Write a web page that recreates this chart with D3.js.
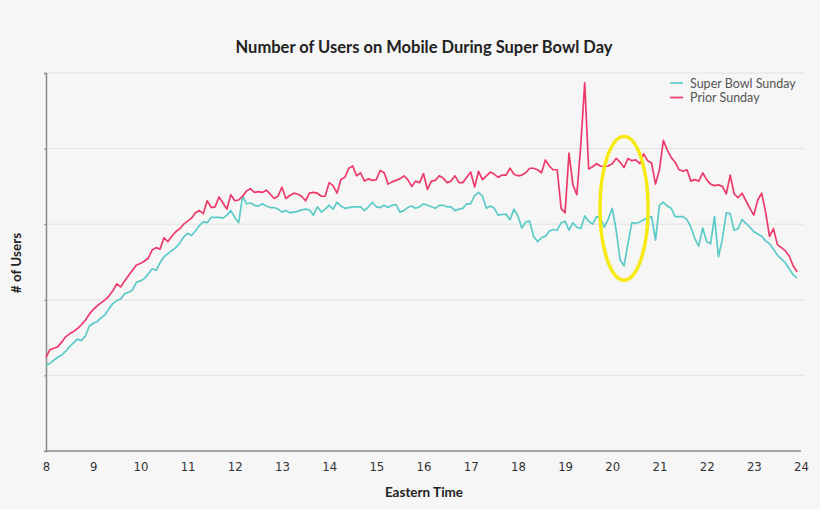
<!DOCTYPE html>
<html>
<head>
<meta charset="utf-8">
<script src="https://cdn.jsdelivr.net/npm/d3@7"></script>
<style>
  html, body { margin: 0; padding: 0; background: #f6f6f6; }
  svg { display: block; font-family: Lato, "Noto Sans", sans-serif; }
</style>
</head>
<body>
<div id="chart"></div>
<script>
// Users every 5 minutes from 8:00 to 23:55 (arbitrary units, axis unlabeled)
const startHour = 8;
const stepMinutes = 5;

const superBowlSunday = [
  113,116,120,124,127,132,138,143,148,146,152,165,169,171,176,180,188,195,199,201,208,210,213,223,
  225,228,234,241,239,249,257,261,265,269,275,283,288,285,291,298,303,302,309,309,309,308,312,318,
  309,302,337,327,328,325,324,327,324,322,322,320,316,318,315,316,317,319,320,319,312,323,316,320,
  325,320,329,324,321,322,323,323,323,318,323,329,323,322,325,322,325,326,316,318,322,324,321,323,
  327,325,323,321,325,325,323,323,318,320,321,327,327,338,342,337,321,324,321,312,313,313,306,320,
  311,295,303,304,284,277,282,284,291,293,292,302,304,292,302,296,294,311,304,300,310,308,296,307,
  321,292,253,245,275,302,301,303,306,308,310,279,325,329,324,321,310,310,310,306,296,281,271,295,
  277,274,310,257,280,315,314,292,294,306,301,296,290,287,284,278,274,267,259,254,249,241,233,229
];

const priorSunday = [
  124,134,136,138,144,151,155,158,162,167,173,181,187,192,196,200,205,212,221,217,225,232,239,246,
  248,251,255,266,269,267,282,277,284,290,294,300,304,308,315,318,314,331,322,323,336,328,320,339,
  331,332,337,344,347,342,343,342,345,340,334,337,349,334,338,341,340,337,331,341,342,341,337,337,
  355,351,341,359,362,374,377,364,368,357,360,358,359,371,368,353,356,358,360,364,359,350,357,355,
  367,346,357,358,364,361,355,357,364,355,355,362,369,349,370,359,364,369,366,362,365,365,374,366,
  364,365,368,374,374,372,368,385,377,372,372,321,315,394,352,339,405,487,373,376,380,377,376,377,
  380,387,382,375,387,384,385,380,393,384,381,353,372,411,398,388,382,372,370,372,357,359,357,368,
  359,353,351,352,350,340,365,340,335,341,331,321,312,332,341,316,284,294,273,269,265,258,245,237
];

const seriesNames = ["Super Bowl Sunday", "Prior Sunday"];
const seriesColors = ["#5ccbc8", "#ec3a6b"];
const hourTicks = d3.range(8, 25);
const valueTicks = [100, 200, 300, 400, 500];

// yellow ring around the kickoff dip
const highlight = { hour: 20.25, value: 321, rxHours: 0.51, ryValue: 95 };

const width = 820;
const height = 509;
const margin = { top: 73, right: 19, bottom: 58, left: 46 };

const svg = d3.select('#chart').append('svg')
  .attr('width', width)
  .attr('height', height);

svg.append('rect')
  .attr('width', width)
  .attr('height', height)
  .attr('fill', '#f6f6f6');

const g = svg.append('g')
  .attr('transform', `translate(${margin.left},${margin.top})`);

const chartWidth = width - margin.left - margin.right;
const chartHeight = height - margin.top - margin.bottom;

// Scales
const xScale = d3.scaleLinear()
  .domain([8, 24])
  .range([0, chartWidth]);

const yScale = d3.scaleLinear()
  .domain([0, 500])
  .range([chartHeight, 0]);

// Grid
g.append('g')
  .selectAll('line')
  .data(valueTicks)
  .join('line')
  .attr('x1', 0)
  .attr('x2', chartWidth + 3)
  .attr('y1', d => yScale(d))
  .attr('y2', d => yScale(d))
  .attr('stroke', '#e2e2e2')
  .attr('stroke-width', 1);

// Axes
const yAxis = d3.axisLeft(yScale)
  .tickValues(valueTicks)
  .tickSize(2)
  .tickFormat('');

const yAxisG = g.append('g').call(yAxis);
yAxisG.select('.domain').attr('stroke', '#8a8a8a').attr('stroke-width', 1.5);
yAxisG.selectAll('.tick line').attr('stroke', '#8a8a8a');

const xAxis = d3.axisBottom(xScale)
  .tickValues(hourTicks)
  .tickSize(0)
  .tickPadding(11)
  .tickFormat(d => d);

const xAxisG = g.append('g')
  .attr('transform', `translate(0,${chartHeight})`)
  .call(xAxis);
xAxisG.select('.domain')
  .attr('stroke', '#8a8a8a')
  .attr('stroke-width', 1.5)
  .attr('d', `M0,0H${chartWidth}`);
xAxisG.selectAll('.tick text')
  .attr('fill', '#333')
  .attr('font-size', 13)
  .attr('font-family', '"Liberation Sans Narrow", "DejaVu Sans Condensed", sans-serif');

// Lines
const line = d3.line()
  .x((d, i) => xScale(startHour + i * stepMinutes / 60))
  .y(d => yScale(d));

[superBowlSunday, priorSunday].forEach((data, i) => {
  g.append('path')
    .datum(data)
    .attr('d', line)
    .attr('fill', 'none')
    .attr('stroke', seriesColors[i])
    .attr('stroke-width', 1.7)
    .attr('stroke-linejoin', 'round');
});

// Highlight ring
g.append('ellipse')
  .attr('cx', xScale(highlight.hour))
  .attr('cy', yScale(highlight.value))
  .attr('rx', xScale(8 + highlight.rxHours) - xScale(8))
  .attr('ry', yScale(0) - yScale(highlight.ryValue))
  .attr('fill', 'none')
  .attr('stroke', '#f7ea14')
  .attr('stroke-width', 3.5);

// Legend
const legend = svg.append('g')
  .attr('transform', 'translate(670,83)');

seriesNames.forEach((name, i) => {
  const row = legend.append('g').attr('transform', `translate(0,${i * 14.5})`);
  row.append('line')
    .attr('x1', 0).attr('x2', 13)
    .attr('stroke', seriesColors[i])
    .attr('stroke-width', 1.7);
  row.append('text')
    .attr('x', 20)
    .attr('y', 4.5)
    .attr('font-size', 12.5)
    .attr('fill', '#555')
    .text(name);
});

// Titles
svg.append('text')
  .attr('x', 424)
  .attr('y', 53)
  .attr('text-anchor', 'middle')
  .attr('font-size', 16.5)
  .attr('font-weight', 'bold')
  .attr('fill', '#222')
  .text('Number of Users on Mobile During Super Bowl Day');

svg.append('text')
  .attr('x', 424)
  .attr('y', 497)
  .attr('text-anchor', 'middle')
  .attr('font-size', 13.5)
  .attr('font-weight', 'bold')
  .attr('fill', '#222')
  .text('Eastern Time');

svg.append('text')
  .attr('transform', 'translate(21,263) rotate(-90)')
  .attr('text-anchor', 'middle')
  .attr('font-size', 13.5)
  .attr('font-weight', 'bold')
  .attr('fill', '#222')
  .text('# of Users');
</script>
</body>
</html>
